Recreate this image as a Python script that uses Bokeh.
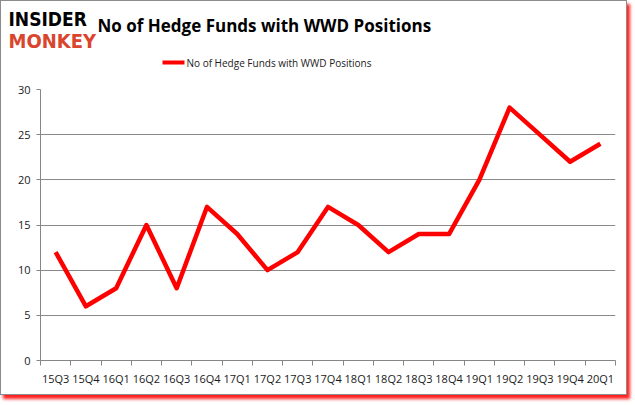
from bokeh.plotting import figure
from bokeh.layouts import column
from bokeh.models import Label, FixedTicker, Range1d
from bokeh.embed import file_html
from bokeh.resources import INLINE

quarters = ["15Q3", "15Q4", "16Q1", "16Q2", "16Q3", "16Q4", "17Q1", "17Q2", "17Q3", "17Q4",
            "18Q1", "18Q2", "18Q3", "18Q4", "19Q1", "19Q2", "19Q3", "19Q4", "20Q1"]
funds = [12, 6, 8, 15, 8, 17, 14, 10, 12, 17, 15, 12, 14, 14, 20, 28, 25, 22, 24]
y_ticks = [0, 5, 10, 15, 20, 25, 30]
series_name = "No of Hedge Funds with WWD Positions"
title_text = "No of Hedge Funds with WWD Positions"

n = len(quarters)
xs = [i + 0.5 for i in range(n)]

W = 625
HEAD_H = 80
MAIN_H = 313

# ---- header (title, legend, logo) ----
hd = figure(width=W, height=HEAD_H, output_backend="svg", toolbar_location=None,
            x_range=Range1d(0, W), y_range=Range1d(HEAD_H, 0),
            min_border=0, min_border_left=0, min_border_right=0,
            min_border_top=0, min_border_bottom=0)
hd.frame_align = False
hd.axis.visible = False
hd.grid.visible = False
hd.outline_line_color = None
hd.background_fill_color = "white"
hd.border_fill_color = "white"

hd.add_layout(Label(x=96, y=24, text=title_text,
                    text_font="Open Sans", text_font_style="bold", text_font_size="17px",
                    text_color="black", text_baseline="middle"))
hd.add_layout(Label(x=185, y=61, text=series_name,
                    text_font="Open Sans", text_font_size="10px",
                    text_color="#1a1a1a", text_baseline="middle"))
hd.segment(x0=[161], y0=[61], x1=[183], y1=[61], line_color="#ff0000", line_width=4)
hd.add_layout(Label(x=7, y=17, text="INSIDER",
                    text_font="DejaVu Sans Condensed", text_font_style="bold", text_font_size="19px",
                    text_color="black", text_baseline="middle"))
hd.add_layout(Label(x=7, y=39, text="MONKEY",
                    text_font="DejaVu Sans Condensed", text_font_style="bold", text_font_size="20px",
                    text_color="#d9452d", text_baseline="middle"))

# ---- main chart ----
p = figure(width=W, height=MAIN_H, output_backend="svg", toolbar_location=None,
           x_range=Range1d(0, n), y_range=Range1d(0, 30),
           min_border_left=39, min_border_right=11, min_border_top=8, min_border_bottom=34)
p.frame_align = False
p.outline_line_color = None
p.background_fill_color = "white"
p.border_fill_color = "white"

p.line(xs, funds, line_color="#ff0000", line_width=4.5, line_join="round")

p.xaxis.ticker = FixedTicker(ticks=xs, minor_ticks=list(range(n + 1)))
p.xaxis.major_label_overrides = {x: q for x, q in zip(xs, quarters)}
p.xaxis.major_tick_line_color = None
p.xaxis.minor_tick_line_color = "#868686"
p.xaxis.minor_tick_out = 5
p.xaxis.minor_tick_in = 0
p.xaxis.axis_line_color = "#868686"
p.xaxis.major_label_text_font = "Open Sans"
p.xaxis.major_label_text_font_size = "11px"
p.xaxis.major_label_text_color = "#1a1a1a"
p.xaxis.major_label_standoff = 4

p.yaxis.ticker = FixedTicker(ticks=y_ticks)
p.yaxis.minor_tick_line_color = None
p.yaxis.major_tick_line_color = "#868686"
p.yaxis.major_tick_out = 4
p.yaxis.major_tick_in = 0
p.yaxis.axis_line_color = "#868686"
p.yaxis.major_label_text_font = "Open Sans"
p.yaxis.major_label_text_font_size = "11px"
p.yaxis.major_label_text_color = "#1a1a1a"
p.yaxis.major_label_standoff = 6

p.xgrid.grid_line_color = None
p.ygrid.ticker = FixedTicker(ticks=y_ticks)
p.ygrid.grid_line_color = "#8a8a8a"

layout = column(hd, p, spacing=0)
layout.styles = {"border": "1px solid #8c8c8c", "box-shadow": "3px 4px 3px #ff2020",
                 "background-color": "white"}

open("out.html", "w").write(file_html(layout, INLINE))
